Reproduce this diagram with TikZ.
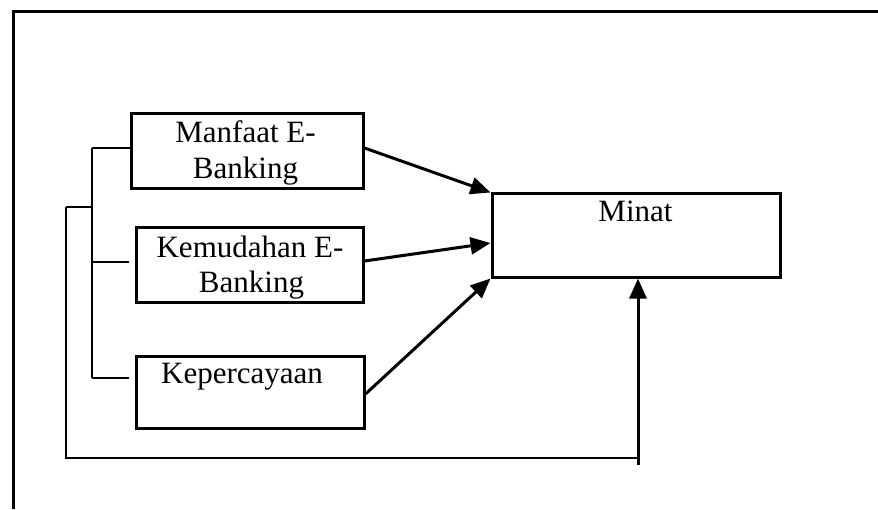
\documentclass[tikz,border=0pt]{standalone}
\usepackage{fontspec}
\setmainfont{Liberation Serif}
\usetikzlibrary{arrows.meta,calc}
\begin{document}
\begin{tikzpicture}[x=1pt,y=-1pt,
  box/.style={draw, line width=3pt, inner sep=0pt},
  lbl/.style={font=\fontsize{31}{35}\selectfont, inner sep=0pt, anchor=base},
  brk/.style={line width=1.9pt},
  arr/.style={line width=3pt, -{Triangle[length=20pt,width=17pt]}},
  frameline/.style={line width=3pt}]
\useasboundingbox (0,0) rectangle (878,509);
% frame
\coordinate (fa) at (13,509);
\coordinate (fb) at (13,11);
\coordinate (fc) at (878,11);
\draw[frameline] (fa) -- (fb) -- (fc);
% boxes
\node[box, minimum width=232pt, minimum height=75pt] (m) at (247,150.5) {};
\node[box, minimum width=227pt, minimum height=75pt] (k) at (249.5,264.5) {};
\node[box, minimum width=228pt, minimum height=72pt] (p) at (250,392) {};
\node[box, minimum width=288pt, minimum height=84pt] (n) at (636,235) {};
% texts
\node[lbl] (m1) at (245.5,142) {Manfaat E-};
\node[lbl] (m2) at (245.5,178) {Banking};
\node[lbl] (k1) at (250,257) {Kemudahan E-};
\node[lbl] (k2) at (251.5,292) {Banking};
\node[lbl] (p1) at (242,383) {Kepercayaan};
\node[lbl] (n1) at (635.5,221) {Minat};
% arrows
\draw[arr] ([yshift=2.5pt]m.east) -- ([yshift=-1pt]n.north west);
\draw[arr] ([yshift=3.5pt]k.east) -- ([yshift=-8pt]n.west);
\draw[arr] ([yshift=-2pt]p.east) -- (n.south west);
% brackets
\coordinate (i1) at (92,148);
\coordinate (i2) at (92,262);
\coordinate (i3) at (92,378);
\draw[brk] (i1) -- (i3);
\draw[brk] (i1) -- ([yshift=2.5pt]m.west);
\draw[brk] (i2) -- ([xshift=-6pt]i2 -| k.west);
\draw[brk] (i3) -- ([xshift=-6pt]i3 -| p.west);
\coordinate (o1) at (66,207);
\coordinate (o2) at (66,458);
\coordinate (o3) at (638,458);
\coordinate (c) at (638,465);
\draw[brk] (o1) -- (o1 -| i1);
\draw[brk] (o1) -- (o2) -- (o3);
\draw[arr] (c) -- (c |- n.south);
\end{tikzpicture}
\end{document}
